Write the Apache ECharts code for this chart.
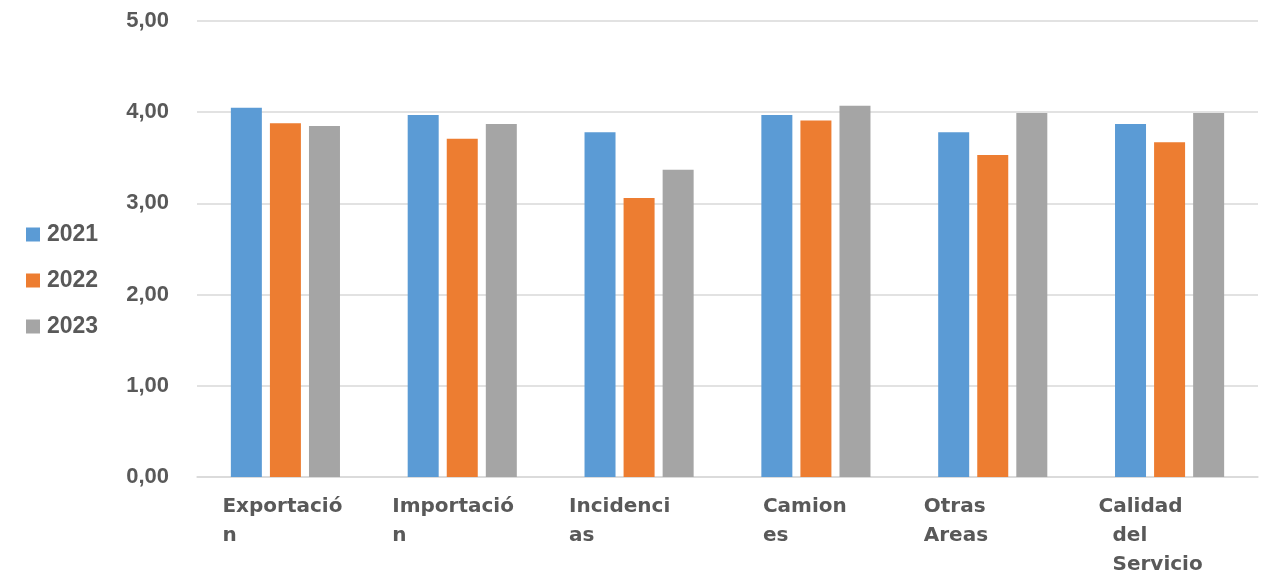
<!DOCTYPE html>
<html>
<head>
<meta charset="utf-8">
<script src="https://cdn.jsdelivr.net/npm/echarts@6/dist/echarts.min.js"></script>
<style>
  html, body { margin: 0; padding: 0; background: #ffffff; }
  #chart { width: 1261px; height: 573px; }
</style>
</head>
<body>
<div id="chart"></div>
<script>
// Survey areas (category axis) and the wrapped lines shown under each bar group
const categories = ['Exportación', 'Importación', 'Incidencias', 'Camiones', 'Otras Areas', 'Calidad del Servicio'];
const categoryLines = [
  ['Exportació', 'n'],
  ['Importació', 'n'],
  ['Incidenci', 'as'],
  ['Camion', 'es'],
  ['Otras', 'Areas'],
  ['Calidad', '\u00a0\u00a0del', '\u00a0\u00a0Servicio']
];

// Average score per year
const years = ['2021', '2022', '2023'];
const values2021 = [4.05, 3.97, 3.78, 3.97, 3.78, 3.87];
const values2022 = [3.88, 3.71, 3.06, 3.91, 3.53, 3.67];
const values2023 = [3.85, 3.87, 3.37, 4.07, 3.99, 3.99];

// Y axis ticks
const yMin = 0, yMax = 5, yStep = 1;

// Layout: width of the left-aligned text box under each category
const labelBoxWidths = [126, 140, 140, 106, 138, 142];

const colors = ['#5b9bd5', '#ed7d31', '#a5a5a5'];
const textColor = '#595959';
const gridColor = '#d9d9d9';

const rich = {};
labelBoxWidths.forEach((w, i) => {
  rich['c' + i] = {
    width: w,
    align: 'left',
    fontFamily: 'DejaVu Sans',
    fontWeight: 'bold',
    fontSize: 20,
    lineHeight: 29,
    color: textColor
  };
});

const chart = echarts.init(document.getElementById('chart'), null, { renderer: 'canvas' });

chart.setOption({
  animation: false,
  color: colors,
  grid: { left: 197, right: 3, top: 21, bottom: 96, containLabel: false, outerBoundsMode: 'none' },
  legend: {
    data: years,
    orient: 'vertical',
    left: 26,
    top: 223,
    padding: 0,
    itemWidth: 14,
    itemHeight: 14,
    itemGap: 23,
    icon: 'rect',
    textStyle: {
      fontFamily: 'Liberation Sans',
      fontWeight: 'bold',
      fontSize: 23,
      color: textColor,
      padding: [0, 0, 0, 2]
    }
  },
  xAxis: {
    type: 'category',
    data: categories,
    axisLine: { show: true, lineStyle: { color: gridColor, width: 1.5 } },
    axisTick: { show: false },
    axisLabel: {
      interval: 0,
      margin: 15,
      formatter: (value, index) => categoryLines[index].map(l => '{c' + index + '|' + l + '}').join('\n'),
      rich: rich
    }
  },
  yAxis: {
    type: 'value',
    min: yMin,
    max: yMax,
    interval: yStep,
    axisLine: { show: false },
    axisTick: { show: false },
    splitLine: { show: true, lineStyle: { color: gridColor, width: 1.5 } },
    axisLabel: {
      margin: 28,
      fontFamily: 'Liberation Sans',
      fontWeight: 'bold',
      fontSize: 22,
      color: textColor,
      formatter: v => v.toFixed(2).replace('.', ',')
    }
  },
  series: [
    { name: years[0], type: 'bar', data: values2021, barWidth: 31, barGap: '26%' },
    { name: years[1], type: 'bar', data: values2022, barWidth: 31, barGap: '26%' },
    { name: years[2], type: 'bar', data: values2023, barWidth: 31, barGap: '26%' }
  ]
});
</script>
</body>
</html>
